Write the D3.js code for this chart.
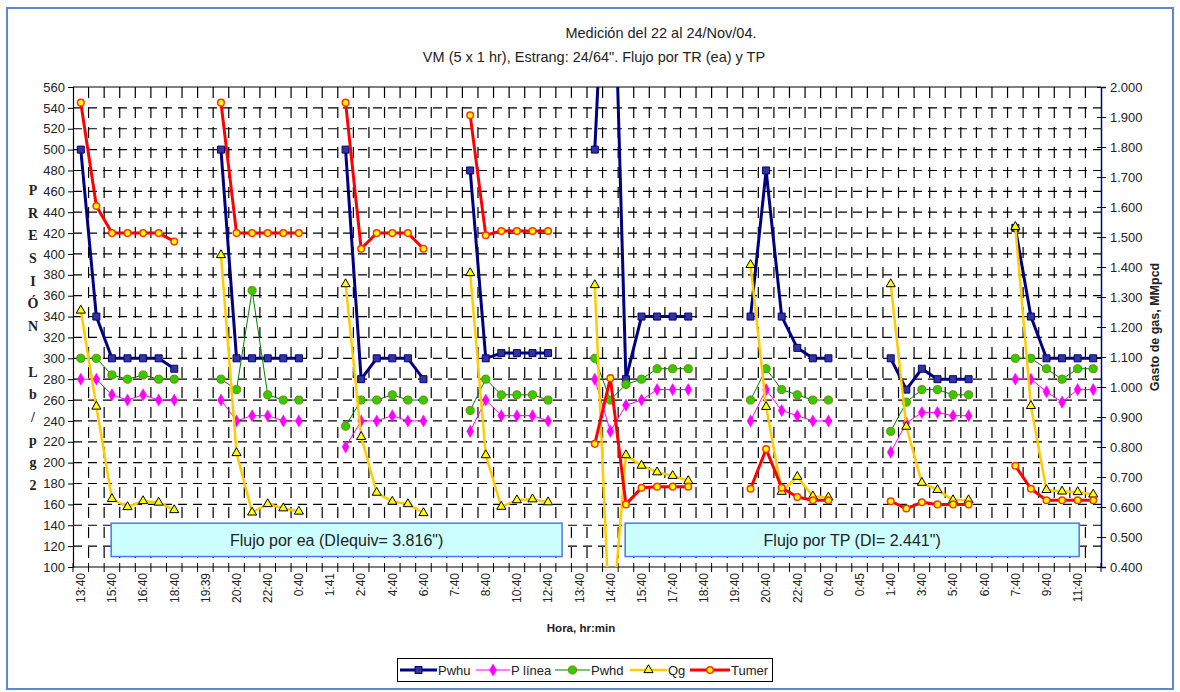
<!DOCTYPE html>
<html>
<head>
<meta charset="utf-8">
<script src="https://cdn.jsdelivr.net/npm/d3@7"></script>
<style>
  body { margin: 0; background: #fff; }
  svg { display: block; }
  text { font-family: "Liberation Sans", Arial, sans-serif; fill: #222; }
</style>
</head>
<body>
<svg id="chart" width="1180" height="692"></svg>
<script>
// Hour labels, shown on every second reading
const horaLabels = ["13:40","15:40","16:40","18:40","19:39","20:40","22:40","0:40","1:41","2:40",
  "4:40","6:40","7:40","8:40","10:40","12:40","13:40","14:40","15:40","17:40","18:40","19:40",
  "20:40","22:40","0:40","0:45","1:40","3:40","5:40","6:40","7:40","9:40","11:40"];
const nCategories = 66;
const presionTicks = [100,120,140,160,180,200,220,240,260,280,300,320,340,360,380,400,420,440,460,480,500,520,540,560];
const gastoTicks = [0.4,0.5,0.6,0.7,0.8,0.9,1.0,1.1,1.2,1.3,1.4,1.5,1.6,1.7,1.8,1.9,2.0];

const _ = null;
// Pressures, Lb/pg2 (left axis)
const pwhu = [500,340,300,300,300,300,290, _,_, 500,300,300,300,300,300, _,_, 500,280,300,300,300,280, _,_,
  480,300,305,305,305,305, _,_, 500,810,280,340,340,340,340, _,_,_, 340,480,340,310,300,300, _,_,_,
  300,270,290,280,280,280, _,_, 425,340,300,300,300,300];
const pLinea = [280,280,265,260,265,260,260, _,_, 260,240,245,245,240,240, _,_, 215,240,240,245,240,240, _,_,
  230,260,245,245,245,240, _,_, 280,230,255,260,270,270,270, _,_,_, 240,270,250,245,240,240, _,_,_,
  210,238,248,248,245,245, _,_, 280,280,268,258,270,270];
const pwhd = [300,300,284,280,284,280,280, _,_, 280,270,365,265,260,260, _,_, 235,260,260,265,260,260, _,_,
  250,280,265,265,265,260, _,_, 300,260,275,280,290,290,290, _,_,_, 260,290,270,265,260,260, _,_,_,
  230,258,270,270,265,265, _,_, 300,300,290,280,290,290];
const tumer = [545,446,420,420,420,420,412, _,_, 545,420,420,420,420,420, _,_, 545,405,420,420,420,405, _,_,
  533,418,422,422,422,422, _,_, 218,281,160,176,177,177,177, _,_,_, 175,213,176,167,164,164, _,_,_,
  163,156,162,160,160,160, _,_, 197,175,164,164,164,164];
// Gas rate, MMpcd (right axis)
const qg = [1.255,0.935,0.627,0.600,0.620,0.615,0.590, _,_, 1.440,0.780,0.582,0.610,0.596,0.585, _,_,
  1.343,0.834,0.648,0.618,0.610,0.580, _,_, 1.380,0.773,0.601,0.623,0.626,0.616, _,_,
  1.340,0.150,0.773,0.738,0.716,0.704,0.687, _,_,_, 1.407,0.934,0.651,0.701,0.636,0.632, _,_,_,
  1.343,0.868,0.681,0.657,0.623,0.623, _,_, 1.534,0.937,0.657,0.652,0.650,0.642];

const flujoNotas = [
  { text: "Flujo por ea (DIequiv= 3.816\")", from: 2.45, to: 31.4 },
  { text: "Flujo por TP (DI= 2.441\")", from: 35.45, to: 64.6 }
];

const P = { left: 73, right: 1101, top: 87, bottom: 567 };
const svg = d3.select("#chart");

const x = d3.scaleBand().domain(d3.range(nCategories)).range([P.left, P.right]).padding(0);
const cx = i => x(i) + x.bandwidth() / 2;
const xAt = c => P.left + c * x.step();
const yL = d3.scaleLinear().domain([100, 560]).range([P.bottom, P.top]);
const yR = d3.scaleLinear().domain([0.4, 2.0]).range([P.bottom, P.top]);

// outer frame
svg.append("rect").attr("x", 7).attr("y", 8).attr("width", 1166).attr("height", 681)
  .attr("fill", "#fff").attr("stroke", "#5b87d8").attr("stroke-width", 2);

// titles
svg.append("text").attr("x", 661).attr("y", 38).attr("text-anchor", "middle")
  .style("font-size", "14.5px").text("Medición del 22 al 24/Nov/04.");
svg.append("text").attr("x", 594).attr("y", 62).attr("text-anchor", "middle")
  .style("font-size", "14.5px").text("VM (5 x 1 hr), Estrang: 24/64\". Flujo por TR (ea) y TP");

// dashed grid
const grid = svg.append("g").attr("stroke", "#000").attr("stroke-width", 1.2);
grid.selectAll("line.h").data(presionTicks.filter(v => v > 100 && v < 560)).join("line")
  .attr("x1", P.left).attr("x2", P.right).attr("y1", d => yL(d)).attr("y2", d => yL(d))
  .attr("stroke-dasharray", "9,6");
grid.selectAll("line.v").data(d3.range(1, nCategories)).join("line")
  .attr("x1", d => xAt(d)).attr("x2", d => xAt(d)).attr("y1", P.top).attr("y2", P.bottom)
  .attr("stroke-dasharray", "11,9");
svg.append("line").attr("x1", P.left).attr("x2", P.right).attr("y1", P.top).attr("y2", P.top)
  .attr("stroke", "#000").attr("stroke-width", 1.2);

// flow regime notes
const notas = svg.append("g");
notas.selectAll("rect").data(flujoNotas).join("rect")
  .attr("x", d => xAt(d.from)).attr("width", d => xAt(d.to) - xAt(d.from))
  .attr("y", yL(142)).attr("height", yL(110) - yL(142))
  .attr("fill", "#ccffff").attr("stroke", "#4a78f0").attr("stroke-width", 1.5);
notas.selectAll("text").data(flujoNotas).join("text")
  .attr("x", d => (xAt(d.from) + xAt(d.to)) / 2).attr("y", (yL(142) + yL(110)) / 2)
  .attr("dy", "0.36em").attr("text-anchor", "middle").style("font-size", "16px").text(d => d.text);

// left axis
const axL = svg.append("g").attr("transform", `translate(${P.left},0)`)
  .call(d3.axisLeft(yL).tickValues(presionTicks).tickSize(5).tickPadding(3).tickFormat(d3.format("d")));
axL.select(".domain").attr("stroke", "#000").attr("stroke-width", 1.2);
axL.selectAll(".tick line").attr("stroke", "#000");
axL.selectAll(".tick text").style("font-size", "13px").style("font-family", "Liberation Sans, Arial, sans-serif").attr("fill", "#222");

// right axis
const axR = svg.append("g").attr("transform", `translate(${P.right},0)`)
  .call(d3.axisRight(yR).tickValues(gastoTicks).tickSize(5).tickPadding(4).tickFormat(d3.format(".3f")));
axR.select(".domain").attr("stroke", "#000080").attr("stroke-width", 1.5);
axR.selectAll(".tick line").attr("stroke", "#000080").attr("x1", -4);
axR.selectAll(".tick text").style("font-size", "13px").style("font-family", "Liberation Sans, Arial, sans-serif").attr("fill", "#222");

// category axis
svg.append("line").attr("x1", P.left).attr("x2", P.right).attr("y1", P.bottom).attr("y2", P.bottom)
  .attr("stroke", "#000").attr("stroke-width", 1.2);
svg.append("g").selectAll("line").data(d3.range(0, nCategories + 1)).join("line")
  .attr("x1", d => xAt(d)).attr("x2", d => xAt(d)).attr("y1", P.bottom - 4).attr("y2", P.bottom + 5)
  .attr("stroke", "#000");
svg.append("g").selectAll("text").data(horaLabels).join("text")
  .attr("transform", (d, k) => `translate(${cx(2 * k)},${P.bottom + 6}) rotate(-90)`)
  .attr("text-anchor", "end").attr("dy", "0.36em").style("font-size", "12px").text(d => d);

// axis titles
svg.append("text").attr("x", 581).attr("y", 632).attr("text-anchor", "middle")
  .style("font-size", "11.5px").style("font-weight", "bold").text("Hora, hr:min");
svg.append("text").attr("transform", "translate(1159,327) rotate(-90)").attr("text-anchor", "middle")
  .style("font-size", "12.5px").style("font-weight", "bold").text("Gasto de gas, MMpcd");
const letras = ["P","R","E","S","I","Ó","N","","L","b","/","p","g","2"];
svg.append("g").selectAll("text").data(letras).join("text")
  .attr("x", 33).attr("y", (d, k) => 190 + k * 22.7).attr("dy", "0.35em").attr("text-anchor", "middle")
  .style("font-family", "Liberation Serif, Times New Roman, serif").style("font-weight", "bold")
  .style("font-size", "14px").attr("fill", "#000").text(d => d);

// series
svg.append("clipPath").attr("id", "plot-clip").append("rect")
  .attr("x", P.left).attr("y", P.top).attr("width", P.right - P.left).attr("height", P.bottom - P.top);
const plot = svg.append("g").attr("clip-path", "url(#plot-clip)");

const series = [
  { name: "Pwhu", values: pwhu, y: yL, color: "#000080", width: 3,
    symbol: d3.symbolSquare, size: 49, fill: "#333399", stroke: "#000080", sw: 1 },
  { name: "P línea", values: pLinea, y: yL, color: "#ff00ff", width: 1,
    symbol: d3.symbolDiamond, size: 42, fill: "#ff00ff", stroke: "#ff00ff", sw: 0.5 },
  { name: "Pwhd", values: pwhd, y: yL, color: "#008000", width: 1,
    symbol: d3.symbolCircle, size: 52, fill: "#33cc00", stroke: "#808000", sw: 1 },
  { name: "Qg", values: qg, y: yR, color: "#ffcc00", width: 2.5,
    symbol: d3.symbolTriangle, size: 36, fill: "#ffff00", stroke: "#000", sw: 1 },
  { name: "Tumer", values: tumer, y: yL, color: "#ff0000", width: 3,
    symbol: d3.symbolCircle, size: 34, fill: "#ffff00", stroke: "#ff3300", sw: 1.5 }
];

series.forEach(s => {
  const pts = s.values.map((v, i) => ({ i, v }));
  const line = d3.line().defined(d => d.v != null).x(d => cx(d.i)).y(d => s.y(d.v));
  plot.append("path").attr("d", line(pts)).attr("fill", "none")
    .attr("stroke", s.color).attr("stroke-width", s.width).attr("stroke-linejoin", "round");
  plot.append("g").selectAll("path").data(pts.filter(d => d.v != null)).join("path")
    .attr("transform", d => `translate(${cx(d.i)},${s.y(d.v)})`)
    .attr("d", d3.symbol(s.symbol, s.size)())
    .attr("fill", s.fill).attr("stroke", s.stroke).attr("stroke-width", s.sw);
});

// legend
const leg = svg.append("g");
leg.append("rect").attr("x", 397.5).attr("y", 658.5).attr("width", 375).attr("height", 23)
  .attr("fill", "#fff").attr("stroke", "#000").attr("stroke-width", 1);
const legPos = [400, 476, 555, 630, 690];
const legLen = [37, 34, 35, 37, 40];
series.forEach((s, k) => {
  const x0 = legPos[k], x1 = x0 + legLen[k], ly = 670;
  leg.append("line").attr("x1", x0).attr("x2", x1).attr("y1", ly).attr("y2", ly)
    .attr("stroke", s.color).attr("stroke-width", s.width);
  leg.append("path").attr("transform", `translate(${(x0 + x1) / 2},${ly})`)
    .attr("d", d3.symbol(s.symbol, s.size)())
    .attr("fill", s.fill).attr("stroke", s.stroke).attr("stroke-width", s.sw);
  leg.append("text").attr("x", x1 + 1).attr("y", ly).attr("dy", "0.36em")
    .style("font-size", "13px").text(s.name);
});
</script>
</body>
</html>
